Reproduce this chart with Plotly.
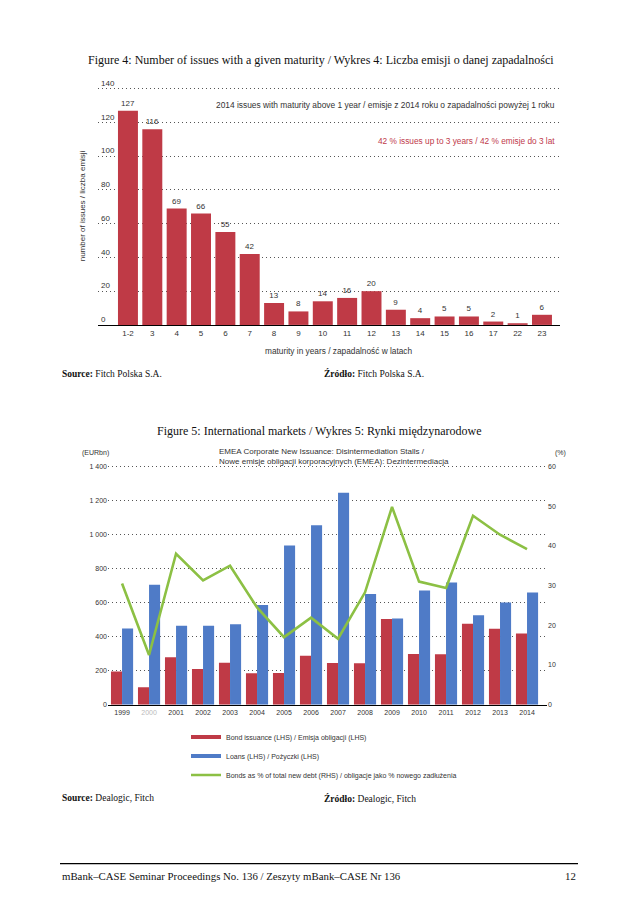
import plotly.graph_objects as go

W, H = 638, 903

# ---------- Data: Figure 4 ----------
maturity = ["1-2", "3", "4", "5", "6", "7", "8", "9", "10", "11", "12", "13", "14", "15", "16", "17", "22", "23"]
issues = [127, 116, 69, 66, 55, 42, 13, 8, 14, 16, 20, 9, 4, 5, 5, 2, 1, 6]
y1_ticks = [0, 20, 40, 60, 80, 100, 120, 140]

# ---------- Data: Figure 5 ----------
years = ["1999", "2000", "2001", "2002", "2003", "2004", "2005", "2006", "2007", "2008",
         "2009", "2010", "2011", "2012", "2013", "2014"]
bonds = [195, 103, 278, 209, 247, 184, 186, 288, 245, 243, 503, 298, 296, 476, 446, 418]
loans = [448, 705, 464, 464, 472, 586, 935, 1054, 1245, 650, 507, 671, 718, 525, 600, 659]
bond_share = [30.5, 12.5, 38.0, 31.3, 35.0, 24.5, 17.0, 21.9, 16.6, 28.3, 49.8, 31.0, 29.4, 47.6, 42.8, 39.2]
lhs_ticks = [0, 200, 400, 600, 800, 1000, 1200, 1400]
lhs_labels = ["0", "200", "400", "600", "800", "1 000", "1 200", "1 400"]
rhs_ticks = [0, 10, 20, 30, 40, 50, 60]

RED = "#BF3A46"
BLUE = "#4F7BC7"
GREEN = "#8CC044"
TXT = "#333333"
SANS = "Liberation Sans, Arial, sans-serif"
SERIF = "Liberation Serif, Times New Roman, serif"


def px_x(p):
    return p / W


def px_y(p):
    return 1 - p / H


# pixel geometry of the two plot areas
Y1_ZERO, Y1_140 = 326, 89
y1_top_val = 150
y1_top_px = Y1_ZERO - (Y1_ZERO - Y1_140) * y1_top_val / 140.0

Y2_ZERO, Y2_1400 = 707, 468
y2_top_val = 1450
y2_top_px = Y2_ZERO - (Y2_ZERO - Y2_1400) * y2_top_val / 1400.0

fig = go.Figure()

# Figure 4 bars
fig.add_trace(go.Bar(
    x=maturity, y=issues, marker=dict(color=RED, line=dict(width=0)),
    text=[str(v) for v in issues], textposition="outside",
    textfont=dict(size=8, color=TXT, family=SANS), cliponaxis=False,
    xaxis="x", yaxis="y", showlegend=False,
))

# Figure 5 bars and line
fig.add_trace(go.Bar(x=years, y=bonds, marker=dict(color=RED, line=dict(width=0)),
                     xaxis="x2", yaxis="y2", showlegend=False, offsetgroup="a"))
fig.add_trace(go.Bar(x=years, y=loans, marker=dict(color=BLUE, line=dict(width=0)),
                     xaxis="x2", yaxis="y2", showlegend=False, offsetgroup="b"))
fig.add_trace(go.Scatter(x=years, y=bond_share, mode="lines",
                         line=dict(color=GREEN, width=2.6),
                         xaxis="x2", yaxis="y3", showlegend=False))

# legend entries (line-style swatches as in the reference)
fig.add_trace(go.Scatter(x=[None], y=[None], mode="lines", line=dict(color=RED, width=4),
                         name="Bond issuance (LHS) / Emisja obligacji (LHS)", xaxis="x2", yaxis="y2"))
fig.add_trace(go.Scatter(x=[None], y=[None], mode="lines", line=dict(color=BLUE, width=4),
                         name="Loans (LHS) / Pożyczki (LHS)", xaxis="x2", yaxis="y2"))
fig.add_trace(go.Scatter(x=[None], y=[None], mode="lines", line=dict(color=GREEN, width=2.5),
                         name="Bonds as % of total new debt (RHS) / obligacje jako % nowego zadłużenia",
                         xaxis="x2", yaxis="y2"))

grid = dict(showgrid=True, gridcolor="#555555", gridwidth=1, griddash="1px,3px")

fig.update_layout(
    width=W, height=H, margin=dict(l=0, r=0, t=0, b=0),
    paper_bgcolor="white", plot_bgcolor="white",
    bargap=0.18, bargroupgap=0, barmode="group",
    font=dict(family=SANS, color=TXT, size=8),
    xaxis=dict(domain=[px_x(98), px_x(560)], anchor="y", type="category",
               range=[-1.23, 17.74], showline=True, linecolor="black", linewidth=1.5,
               ticks="", tickfont=dict(size=8, color=TXT), showgrid=False, zeroline=False),
    yaxis=dict(domain=[px_y(Y1_ZERO), px_y(y1_top_px)], anchor="x", range=[0, y1_top_val],
               tickvals=y1_ticks, ticklabelposition="inside top",
               tickfont=dict(size=8, color=TXT), showline=False, zeroline=False, ticks="", **grid),
    xaxis2=dict(domain=[px_x(108), px_x(547)], anchor="y2", type="category",
                range=[-0.52, 15.74], showline=True, linecolor="black", linewidth=1.5,
                ticks="", tickfont=dict(size=7, color=TXT), showgrid=False, zeroline=False,
                tickvals=years,
                ticktext=[("<span style='color:#bbbbbb'>%s</span>" % y) if y == "2000" else y for y in years]),
    yaxis2=dict(domain=[px_y(Y2_ZERO), px_y(y2_top_px)], anchor="x2", range=[0, y2_top_val],
                tickvals=lhs_ticks, ticktext=lhs_labels,
                tickfont=dict(size=7, color=TXT), showline=False, zeroline=False, ticks="", **grid),
    yaxis3=dict(domain=[px_y(Y2_ZERO), px_y(y2_top_px)], anchor="x2", overlaying="y2", side="right",
                range=[0, 60 * y2_top_val / 1400.0], tickvals=rhs_ticks, tickfont=dict(size=7, color=TXT),
                showgrid=False, showline=False, zeroline=False, ticks=""),
    legend=dict(x=px_x(186), y=px_y(725), xanchor="left", yanchor="top",
                font=dict(size=7, color=TXT, family=SANS), bgcolor="rgba(0,0,0,0)",
                traceorder="normal"),
)

ann = []


def text(x, y, s, size=8, color=TXT, family=SANS, xanchor="left", angle=0):
    ann.append(dict(x=px_x(x), y=px_y(y), xref="paper", yref="paper", text=s, showarrow=False,
                    xanchor=xanchor, yanchor="middle", textangle=angle,
                    font=dict(size=size, color=color, family=family)))


# Figure 4 texts
text(321, 60, "Figure 4: Number of issues with a given maturity / Wykres 4: Liczba emisji o danej zapadalności",
     size=12, family=SERIF, color="#111111", xanchor="center")
text(557, 105, "2014 issues with maturity above 1 year / emisje z 2014 roku o zapadalności powyżej 1 roku",
     size=8.4, xanchor="right")
text(557, 141, "42 % issues up to 3 years / 42 % emisje do 3 lat", size=8.3, color="#C0394A", xanchor="right")
text(82, 207, "number of issues / liczba emisji", size=8, xanchor="center", angle=-90)
text(338, 352, "maturity in years / zapadalność w latach", size=8.3, xanchor="center")
text(60, 375, "<b>Source:</b> Fitch Polska S.A.", size=9.5, family=SERIF, color="#111111")
text(322, 375, "<b>Źródło:</b> Fitch Polska S.A.", size=9.5, family=SERIF, color="#111111")

# Figure 5 texts
text(319, 432, "Figure 5: International markets / Wykres 5: Rynki międzynarodowe",
     size=12, family=SERIF, color="#111111", xanchor="center")
text(80, 455, "(EURbn)", size=7)
text(553, 455, "(%)", size=7)
text(217, 453, "EMEA Corporate New Issuance: Disintermediation Stalls /", size=8)
text(217, 463, "Nowe emisje obligacji korporacyjnych (EMEA): Dezintermediacja", size=8)
text(60, 801, "<b>Source:</b> Dealogic, Fitch", size=9.5, family=SERIF, color="#111111")
text(322, 801, "<b>Źródło:</b> Dealogic, Fitch", size=9.5, family=SERIF, color="#111111")

# Footer
text(60, 879, "mBank–CASE Seminar Proceedings No. 136 / Zeszyty mBank–CASE Nr 136",
     size=10.8, family=SERIF, color="#111111")
text(578, 879, "12", size=10.8, family=SERIF, color="#111111", xanchor="right")

fig.update_layout(annotations=ann, shapes=[
    dict(type="line", xref="paper", yref="paper", x0=px_x(60), x1=px_x(578),
         y0=px_y(866.5), y1=px_y(866.5), line=dict(color="black", width=1.2))
])

fig.write_html("out.html", config={"displayModeBar": False, "staticPlot": True},
               post_script="document.body.style.margin='0px';document.body.style.overflow='hidden';")
